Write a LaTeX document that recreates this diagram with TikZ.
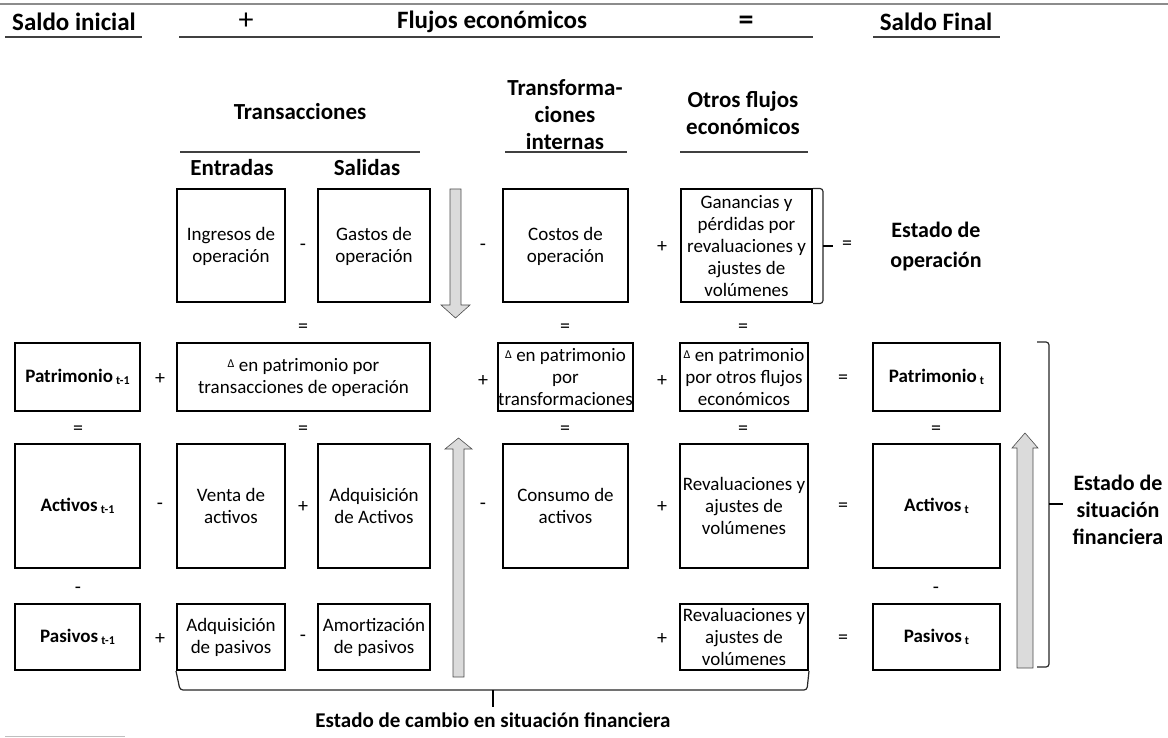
\documentclass[tikz,border=0pt]{standalone}
\usepackage{fontspec}
\setmainfont{Carlito}
\newcommand{\sbx}[1]{\,{\fontsize{12}{12}\selectfont\raisebox{-0.45ex}{#1}}}
\newcommand{\dlt}{{\fontsize{12}{12}\selectfont\raisebox{0.6ex}{Δ}}}
\tikzset{
  box/.style={draw, line width=2pt, align=center, inner sep=0pt, font=\fontsize{19}{22}\selectfont},
  bbox/.style={box, font=\bfseries\fontsize{19}{22}\selectfont},
  op/.style={inner sep=0pt, font=\fontsize{20}{20}\selectfont},
  hdr/.style={align=center, inner sep=0pt, font=\bfseries\fontsize{23}{27}\selectfont},
  top/.style={inner sep=0pt, font=\bfseries\fontsize{25}{28}\selectfont},
  uline/.style={line width=1.8pt, black!75},
  blk/.style={draw=black!70, line width=0.6pt, fill=gray!28},
  brace/.style={line width=1.2pt, black!85, rounded corners=3pt}
}
\begin{document}
\begin{tikzpicture}[x=1pt,y=-1pt]
\useasboundingbox (0,0) rectangle (1168,738);
% scan lines
\draw[line width=2pt, black!45] (0,4) -- (1168,4);
\draw[line width=1pt, black!25] (5,736) -- (125,736);
% top header
\node[top] (si) at (74,22) {Saldo inicial};
\node[inner sep=0pt, font=\fontsize{30}{30}\selectfont] (plus0) at (246,21) {+};
\node[top] (fe) at (492,22) {Flujos económicos};
\node[inner sep=0pt, font=\bfseries\fontsize{30}{30}\selectfont] (eq0) at (746,23) {=};
\node[top] (sf) at (936,22) {Saldo Final};
\draw[uline] (5,37) -- (142,37);
\draw[uline] (179,37) -- (813,37);
\draw[uline] (873,37) -- (1000,37);
% column headers
\node[hdr] (tr) at (300,112) {Transacciones};
\node[hdr] (ti) at (565,115) {Transforma-\\ciones\\internas};
\node[hdr] (of) at (743,113) {Otros flujos\\económicos};
\draw[uline] (180,152) -- (420,152);
\draw[uline] (505,152) -- (627,152);
\draw[uline] (680,152) -- (808,152);
\node[hdr] (en) at (232,168) {Entradas};
\node[hdr] (sa) at (367,168) {Salidas};
% row 1
\node[box, minimum width=108, minimum height=113] (ing) at (231,246) {Ingresos de\\operación};
\node[op] (o11) at (303,247) {-};
\node[box, minimum width=112, minimum height=113] (gas) at (374,246) {Gastos de\\operación};
\node[op] (o12) at (483,247) {-};
\node[box, minimum width=125, minimum height=113] (cos) at (565.5,246) {Costos de\\operación};
\node[op] (o13) at (662,247) {+};
\node[box, minimum width=131, minimum height=113] (gan) at (746.5,246) {Ganancias y\\pérdidas por\\revaluaciones y\\ajustes de\\volúmenes};
\draw[brace] (gan.north east) -- ++(10,0) -- ([xshift=10pt]gan.south east) -- (gan.south east);
\coordinate (gtick) at ([xshift=10pt]gan.east);
\draw[line width=1.2pt] (gtick) -- ++(10,0);
\node[op] (o14) at (847,245) {=};
\node[hdr, font=\bfseries\fontsize{22}{30}\selectfont] (eo) at (936,247) {Estado de\\operación};
% separators
\node[op] (s1) at (303,328) {=};
\node[op] (s2) at (565,328) {=};
\node[op] (s3) at (743,328) {=};
% row 2
\node[bbox, minimum width=125, minimum height=68] (p0) at (77.5,377) {Patrimonio\sbx{t-1}};
\node[op] (o21) at (160,379) {+};
\node[box, minimum width=253, minimum height=68] (dpt) at (303.5,377) {\dlt\ en patrimonio por\\transacciones de operación};
\node[op] (o22) at (483,381) {+};
\node[box, minimum width=125, minimum height=68] (dtr) at (565.5,377) {\dlt\ en patrimonio\\por\\transformaciones};
\node[op] (o23) at (662,381) {+};
\node[box, minimum width=128, minimum height=68] (dof) at (744,377) {\dlt\ en patrimonio\\por otros flujos\\económicos};
\node[op] (o24) at (843,379) {=};
\node[bbox, minimum width=127, minimum height=68] (pt) at (936.5,377) {Patrimonio\sbx{t}};
% separators
\node[op] (s4) at (78,430) {=};
\node[op] (s5) at (303,430) {=};
\node[op] (s6) at (565,430) {=};
\node[op] (s7) at (743,430) {=};
\node[op] (s8) at (936,430) {=};
% row 3
\node[bbox, minimum width=125, minimum height=124] (a0) at (77.5,506) {Activos\sbx{t-1}};
\node[op] (o31) at (160,506) {-};
\node[box, minimum width=108, minimum height=124] (va) at (231,506) {Venta de\\activos};
\node[op] (o32) at (303,507) {+};
\node[box, minimum width=112, minimum height=124] (aa) at (374,506) {Adquisición\\de Activos};
\node[op] (o33) at (483,506) {-};
\node[box, minimum width=125, minimum height=124] (ca) at (565.5,506) {Consumo de\\activos};
\node[op] (o34) at (662,507) {+};
\node[box, minimum width=128, minimum height=124] (ra) at (744,506) {Revaluaciones y\\ajustes de\\volúmenes};
\node[op] (o35) at (843,507) {=};
\node[bbox, minimum width=127, minimum height=124] (at) at (936.5,506) {Activos\sbx{t}};
% separators
\node[op] (s9) at (78,590) {-};
\node[op] (s10) at (936,590) {-};
% row 4
\node[bbox, minimum width=125, minimum height=66] (q0) at (77.5,637) {Pasivos\sbx{t-1}};
\node[op] (o41) at (160,639) {+};
\node[box, minimum width=108, minimum height=66] (ap) at (231,637) {Adquisición\\de pasivos};
\node[op] (o42) at (303,638) {-};
\node[box, minimum width=112, minimum height=66] (mp) at (374,637) {Amortización\\de pasivos};
\node[op] (o43) at (662,639) {+};
\node[box, minimum width=128, minimum height=66] (rp) at (744,637) {Revaluaciones y\\ajustes de\\volúmenes};
\node[op] (o44) at (843,639) {=};
\node[bbox, minimum width=127, minimum height=66] (qt) at (936.5,637) {Pasivos\sbx{t}};
% block arrows
\draw[blk] (450,189) -- (461,189) -- (461,305) -- (470,305) -- (455.5,318) -- (441,305) -- (450,305) -- cycle;
\draw[blk] (453,677) -- (464,677) -- (464,449) -- (472,449) -- (458.5,438) -- (445,449) -- (453,449) -- cycle;
\draw[blk] (1017,668) -- (1033,668) -- (1033,448) -- (1038,448) -- (1025,433) -- (1012,448) -- (1017,448) -- cycle;
% right brace
\coordinate (rb1) at (1037,342);
\coordinate (rb2) at (1037,667);
\draw[brace] (rb1) -- (1049,342) -- (1049,667) -- (rb2);
\coordinate (rbm) at (1049,504);
\draw[line width=1.2pt] (rbm) -- ++(14,0);
\node[hdr, font=\bfseries\fontsize{22}{27}\selectfont] (esf) at (1118,510) {Estado de\\situación\\financiera};
% bottom brace
\coordinate (bb1) at (ap.south west);
\coordinate (bb2) at (rp.south east);
\draw[brace] (bb1) -- (180,690) -- (807,690) -- (bb2);
\coordinate (bbm) at (493,690);
\draw[line width=1.2pt] (bbm) -- ++(0,17);
\node[top, font=\bfseries\fontsize{21}{24}\selectfont] (ecsf) at (493,720) {Estado de cambio en situación financiera};
\end{tikzpicture}
\end{document}
